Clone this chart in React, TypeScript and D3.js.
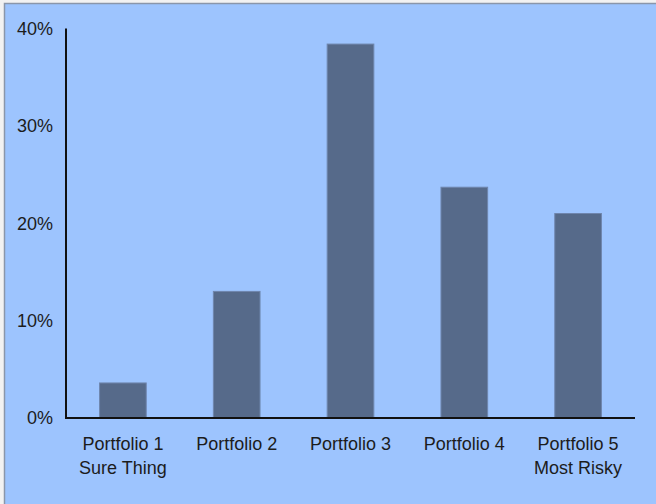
import React from "react";
import * as d3 from "d3";

// Portfolio returns (fraction of 1)
const portfolios: string[] = ["Portfolio 1", "Portfolio 2", "Portfolio 3", "Portfolio 4", "Portfolio 5"];
const subtitles: string[] = ["Sure Thing", "", "", "", "Most Risky"];
const returns: number[] = [0.036, 0.13, 0.384, 0.237, 0.21];
const yTicks: number[] = [0, 0.1, 0.2, 0.3, 0.4];

const W = 656;
const H = 504;
const plot = { left: 66, right: 635, top: 28.5, bottom: 418 };

const FONT = "'Liberation Sans', Arial, Helvetica, sans-serif";

export default function App() {
  const x = d3
    .scaleBand<string>()
    .domain(portfolios)
    .range([plot.left, plot.right])
    .paddingInner(0.59)
    .paddingOuter(0.295);

  const y = d3.scaleLinear().domain([0, 0.4]).range([plot.bottom, plot.top]);
  const fmt = d3.format(".0%");

  return (
    <div style={{ position: "fixed", left: 0, top: 0, width: W, height: H, background: "#f4f4f4" }}>
      <svg width={W} height={H} style={{ display: "block" }}>
        <rect x={0} y={0} width={W} height={H} fill="#f2f2f2" />
        <rect x={4.5} y={3.5} width={W} height={H} fill="#9dc4fe" stroke="#8a96aa" strokeWidth={1.5} />

        {returns.map((v, i) => (
          <rect
            key={portfolios[i]}
            x={x(portfolios[i])!}
            y={y(v)}
            width={x.bandwidth()}
            height={y(0) - y(v)}
            fill="#566a8a"
            stroke="#6f86ad"
            strokeWidth={1}
          />
        ))}

        <line x1={plot.left} x2={plot.left} y1={plot.top} y2={plot.bottom} stroke="#111" strokeWidth={2} />
        <line x1={plot.left - 1} x2={plot.right} y1={plot.bottom} y2={plot.bottom} stroke="#111" strokeWidth={2} />

        {yTicks.map((t) => (
          <text
            key={t}
            x={53}
            y={y(t)}
            dy="0.36em"
            textAnchor="end"
            fontFamily={FONT}
            fontSize={18}
            fill="#1c1c1c"
          >
            {fmt(t)}
          </text>
        ))}

        {portfolios.map((p, i) => {
          const cx = x(p)! + x.bandwidth() / 2;
          return (
            <g key={p}>
              <text x={cx} y={450} textAnchor="middle" fontFamily={FONT} fontSize={18} fill="#1c1c1c">
                {p}
              </text>
              {subtitles[i] && (
                <text x={cx} y={473.5} textAnchor="middle" fontFamily={FONT} fontSize={18} fill="#1c1c1c">
                  {subtitles[i]}
                </text>
              )}
            </g>
          );
        })}
      </svg>
    </div>
  );
}
